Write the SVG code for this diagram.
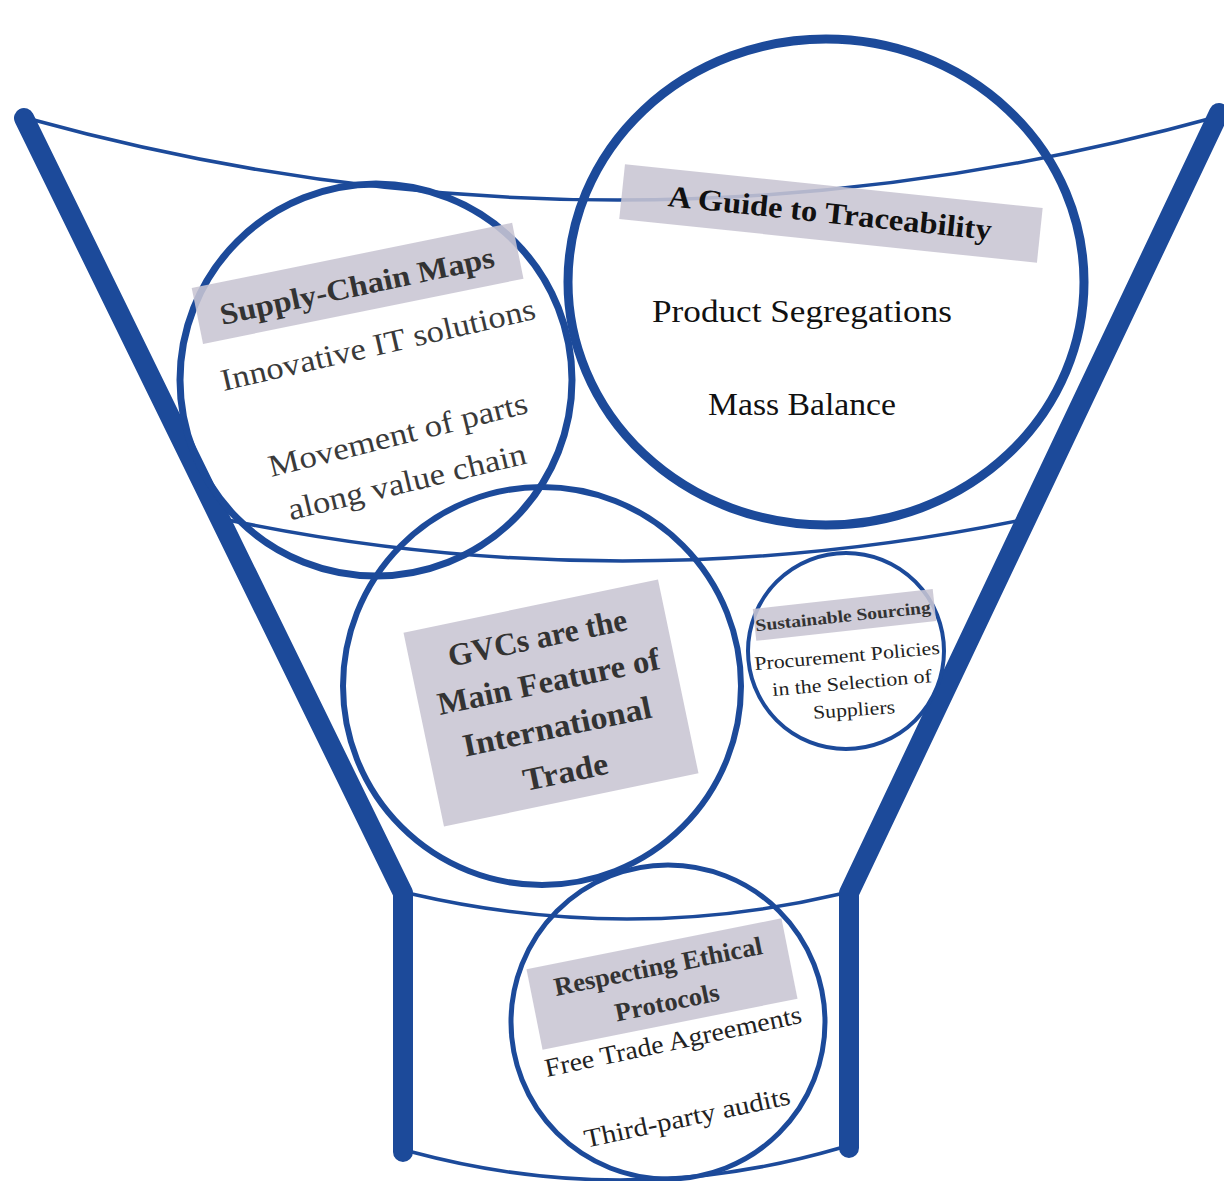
<svg xmlns="http://www.w3.org/2000/svg" width="1224" height="1181" viewBox="0 0 1224 1181">
<style>
.thin{fill:none;stroke:#1c4a9a;stroke-width:3.5}
.thick{fill:none;stroke:#1c4a9a;stroke-width:20;stroke-linecap:round;stroke-linejoin:round}
.ring{fill:none;stroke:#1c4a9a}
.box{fill:#c8c5d3;fill-opacity:0.88}
.t{font-family:"Liberation Serif","DejaVu Serif",serif;text-anchor:middle}
.b{font-weight:bold}
</style>
<rect width="1224" height="1181" fill="#ffffff"/>
<g id="funnel">
<path class="thin" d="M30,119 Q620,282 1216,117"/>
<path class="thin" d="M228,520 Q620,602 1022,520"/>
<path class="thin" d="M412,894 Q628,944 840,894"/>
<path class="thin" d="M412,1152 Q628,1210 840,1148"/>
<polyline class="thick" points="24,118 403,893 403,1152"/>
<polyline class="thick" points="1219,113 849,893 849,1148"/>
</g>
<g id="traceability">
<ellipse class="ring" cx="826" cy="282" rx="258" ry="243" stroke-width="9"/>
<rect class="box" x="-210" y="-27" width="420" height="55" transform="translate(831,213) rotate(6)"/>
<text class="t b" font-size="30" fill="#111" x="0" y="10" textLength="325" lengthAdjust="spacingAndGlyphs" transform="translate(830,213) rotate(6)">A Guide to Traceability</text>
<text class="t" font-size="32" fill="#111" x="802" y="322" textLength="300" lengthAdjust="spacingAndGlyphs">Product Segregations</text>
<text class="t" font-size="32" fill="#111" x="802" y="415" textLength="188" lengthAdjust="spacingAndGlyphs">Mass Balance</text>
</g>
<g id="supply-chain">
<circle class="ring" cx="376" cy="380" r="196" stroke-width="7"/>
<rect class="box" x="-163" y="-28" width="327" height="57" transform="translate(357,283) rotate(-11.5)"/>
<text class="t b" font-size="30" fill="#333" x="0" y="10" textLength="280" lengthAdjust="spacingAndGlyphs" transform="translate(357,286) rotate(-12)">Supply-Chain Maps</text>
<text class="t" font-size="31" fill="#3a3a3a" x="0" y="10" textLength="322" lengthAdjust="spacingAndGlyphs" transform="translate(378,345) rotate(-13)">Innovative IT solutions</text>
<text class="t" font-size="31" fill="#3a3a3a" x="0" y="10" textLength="266" lengthAdjust="spacingAndGlyphs" transform="translate(398,435) rotate(-14)">Movement of parts</text>
<text class="t" font-size="31" fill="#3a3a3a" x="0" y="10" textLength="244" lengthAdjust="spacingAndGlyphs" transform="translate(407,482) rotate(-13.5)">along value chain</text>
</g>
<g id="gvc">
<circle class="ring" cx="542" cy="686" r="199" stroke-width="6"/>
<g transform="translate(551,703) rotate(-11.8)">
<rect class="box" x="-130" y="-99" width="260" height="198"/>
<text class="t b" font-size="32" fill="#333" x="0" y="-56" textLength="182" lengthAdjust="spacingAndGlyphs">GVCs are the</text>
<text class="t b" font-size="32" fill="#333" x="2" y="-11" textLength="226" lengthAdjust="spacingAndGlyphs">Main Feature of</text>
<text class="t b" font-size="32" fill="#333" x="1" y="35" textLength="192" lengthAdjust="spacingAndGlyphs">International</text>
<text class="t b" font-size="32" fill="#333" x="0" y="81" textLength="86" lengthAdjust="spacingAndGlyphs">Trade</text>
</g>
</g>
<g id="sustainable">
<circle class="ring" cx="846" cy="651" r="98" stroke-width="4"/>
<rect class="box" x="-90" y="-16" width="181" height="32" transform="translate(844,615) rotate(-6.3)"/>
<text class="t b" font-size="17" fill="#333" x="0" y="6" textLength="176" lengthAdjust="spacingAndGlyphs" transform="translate(843,616) rotate(-6)">Sustainable Sourcing</text>
<text class="t" font-size="19" fill="#222" x="0" y="6" textLength="186" lengthAdjust="spacingAndGlyphs" transform="translate(847,656) rotate(-5)">Procurement Policies</text>
<text class="t" font-size="19" fill="#222" x="0" y="6" textLength="160" lengthAdjust="spacingAndGlyphs" transform="translate(852,683) rotate(-5)">in the Selection of</text>
<text class="t" font-size="19" fill="#222" x="0" y="6" textLength="82" lengthAdjust="spacingAndGlyphs" transform="translate(854,710) rotate(-4)">Suppliers</text>
</g>
<g id="ethical">
<circle class="ring" cx="668" cy="1022" r="157" stroke-width="5"/>
<rect class="box" x="-130" y="-41" width="260" height="82" transform="translate(662,984) rotate(-11.3)"/>
<text class="t b" font-size="26" fill="#333" x="0" y="9" textLength="212" lengthAdjust="spacingAndGlyphs" transform="translate(658,966) rotate(-11.5)">Respecting Ethical</text>
<text class="t b" font-size="26" fill="#333" x="0" y="9" textLength="106" lengthAdjust="spacingAndGlyphs" transform="translate(667,1002) rotate(-11.5)">Protocols</text>
<text class="t" font-size="26" fill="#222" x="0" y="9" textLength="262" lengthAdjust="spacingAndGlyphs" transform="translate(673,1041) rotate(-12)">Free Trade Agreements</text>
<text class="t" font-size="26" fill="#222" x="0" y="9" textLength="210" lengthAdjust="spacingAndGlyphs" transform="translate(687,1117) rotate(-12)">Third-party audits</text>
</g>
</svg>
